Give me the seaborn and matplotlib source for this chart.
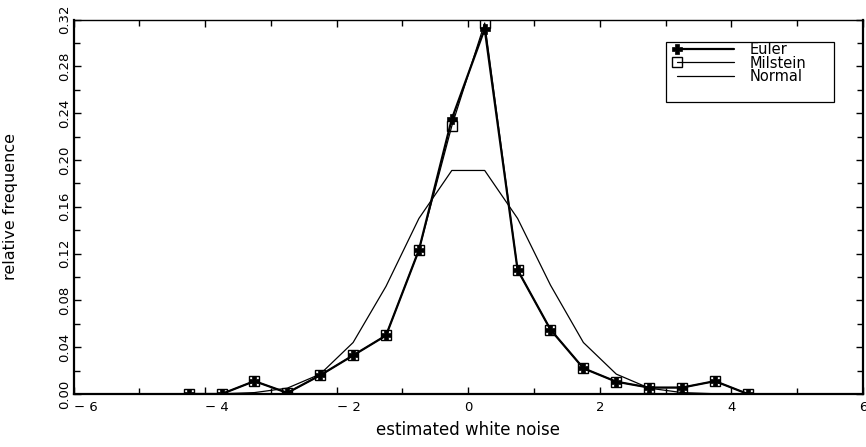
import matplotlib
matplotlib.use("Agg")
import matplotlib.pyplot as plt
import matplotlib.transforms as mtransforms
import seaborn as sns
import pandas as pd
from matplotlib.legend_handler import HandlerLine2D
from matplotlib.patches import Rectangle
from matplotlib.ticker import MultipleLocator

# ---- data ----
x_centers = [-4.25, -3.75, -3.25, -2.75, -2.25, -1.75, -1.25, -0.75, -0.25,
             0.25, 0.75, 1.25, 1.75, 2.25, 2.75, 3.25, 3.75, 4.25]
euler = [0.0, 0.0, 0.011, 0.001, 0.016, 0.033, 0.050, 0.123, 0.235,
         0.312, 0.106, 0.055, 0.022, 0.0105, 0.0055, 0.0055, 0.011, 0.0]
milstein = [0.0, 0.0, 0.011, 0.001, 0.016, 0.033, 0.050, 0.123, 0.229,
            0.317, 0.106, 0.055, 0.022, 0.0105, 0.0055, 0.0055, 0.011, 0.0]
normal = [0.0, 0.0002, 0.0012, 0.005, 0.017, 0.044, 0.092, 0.150, 0.191,
          0.191, 0.150, 0.093, 0.044, 0.017, 0.005, 0.0012, 0.0002, 0.0]
x_ticks = [-6, -4, -2, 0, 2, 4, 6]
y_ticks = [0.00, 0.04, 0.08, 0.12, 0.16, 0.20, 0.24, 0.28, 0.32]
series_names = ["Euler", "Milstein", "Normal"]

df = pd.DataFrame({"x": x_centers, "Euler": euler, "Milstein": milstein, "Normal": normal})

sns.set_style("ticks")
plt.rcParams["font.family"] = ["DejaVu Sans"]
plt.rcParams["text.color"] = "black"
plt.rcParams["axes.labelcolor"] = "black"
plt.rcParams["xtick.color"] = "black"
plt.rcParams["ytick.color"] = "black"

fig = plt.figure(figsize=(8.66, 4.47), dpi=100)
ax = fig.add_axes([73.5 / 866, 1 - 394 / 447, (863 - 73.5) / 866, (394 - 19.5) / 447])

sns.lineplot(data=df, x="x", y="Normal", ax=ax, color="black", linewidth=0.9,
             label="Normal", sort=False)
sns.lineplot(data=df, x="x", y="Milstein", ax=ax, color="black", linewidth=0.9,
             marker="s", markersize=7.5, markerfacecolor="none", markeredgecolor="black",
             markeredgewidth=1.0, label="Milstein", sort=False)
sns.lineplot(data=df, x="x", y="Euler", ax=ax, color="black", linewidth=1.6,
             marker="P", markersize=7.5, markerfacecolor="black", markeredgecolor="black",
             markeredgewidth=0.5, label="Euler", sort=False)

ax.set_xlim(-6, 6)
ax.set_ylim(0, 0.32)
ax.set_xticks(x_ticks)
xlabels = ax.set_xticklabels([str(t).replace("-", "\u2212 ") for t in x_ticks])
for t, lab in zip(x_ticks, xlabels):
    if t < 0:
        lab.set_ha("left")
ax.set_yticks(y_ticks)
ylabels = ax.set_yticklabels([f"{t:.2f}" for t in y_ticks], rotation=90, va="center")
shift = mtransforms.ScaledTranslation(0, 3 / 100, fig.dpi_scale_trans)
for lab in ylabels:
    lab.set_transform(lab.get_transform() + shift)
ax.xaxis.set_minor_locator(MultipleLocator(1))
ax.yaxis.set_minor_locator(MultipleLocator(0.02))
ax.tick_params(which="both", direction="in", top=True, right=True, color="black",
               labelsize=9.5, labelcolor="black")
ax.tick_params(which="major", length=5, width=1.0)
ax.tick_params(which="minor", length=4, width=1.0)
ax.tick_params(axis="y", pad=1.5)
ax.tick_params(axis="x", pad=5)
for s in ax.spines.values():
    s.set_visible(True)
    s.set_color("black")
    s.set_linewidth(1.6)
ax.spines["top"].set_linewidth(1.0)

ax.set_xlabel("estimated white noise", fontsize=12, labelpad=5, color="black")
ax.set_ylabel("relative frequence", fontsize=11.5, labelpad=29, color="black")
ax.grid(False)


class LeftMarkerHandler(HandlerLine2D):
    def create_artists(self, legend, orig_handle, xdescent, ydescent, width, height, fontsize, trans):
        artists = super().create_artists(legend, orig_handle, xdescent, ydescent,
                                         width, height, fontsize, trans)
        for a in artists:
            if a.get_markevery() is not None:
                a.set_markevery([0])
        return artists


handles, labels = ax.get_legend_handles_labels()
order = [labels.index(n) for n in series_names]
handles = [handles[i] for i in order]
labels = [labels[i] for i in order]

ax_w, ax_h = 863 - 73.5, 394 - 19.5
leg = ax.legend(handles, labels, loc="upper left",
                bbox_to_anchor=((677 - 73.5) / ax_w, (394 - 42) / ax_h),
                frameon=False, handlelength=3.9, handletextpad=1.1, labelspacing=-0.1,
                fontsize=10.5, borderpad=0.0, borderaxespad=0, labelcolor="black",
                handler_map={h: LeftMarkerHandler(numpoints=1) for h in handles})
for h in leg.legend_handles:
    h.set_markersize(6.5)

box = Rectangle(((666 - 73.5) / ax_w, (394 - 102) / ax_h), (834 - 666) / ax_w, 60 / ax_h,
                transform=ax.transAxes, fill=False, edgecolor="black", linewidth=0.9,
                zorder=5)
ax.add_patch(box)

fig.savefig("out.png", dpi=100)
